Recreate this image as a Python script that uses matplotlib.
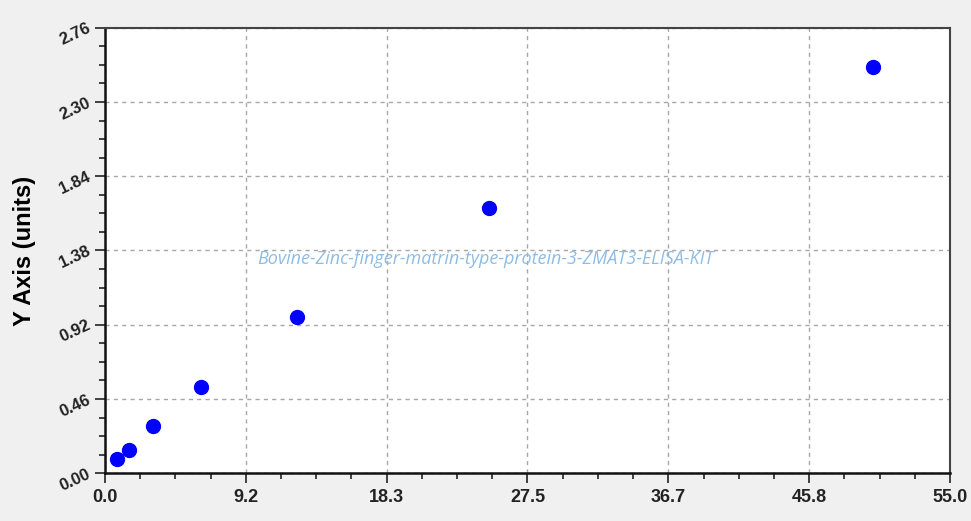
import numpy as np
import matplotlib.pyplot as plt
from matplotlib.ticker import MultipleLocator, FixedLocator

# standard curve points
conc = [0.78, 1.56, 3.125, 6.25, 12.5, 25.0, 50.0]
od = [0.089, 0.144, 0.295, 0.537, 0.965, 1.642, 2.515]

x_ticks = [0.0, 9.2, 18.3, 27.5, 36.7, 45.8, 55.0]
y_ticks = [0.00, 0.46, 0.92, 1.38, 1.84, 2.30, 2.76]
watermark = 'Bovine-Zinc-finger-matrin-type-protein-3-ZMAT3-ELISA-KIT'

plt.rcParams['font.family'] = ['Liberation Sans', 'DejaVu Sans']

fig = plt.figure(figsize=(9.71, 5.21), dpi=100, facecolor='#f0f0f0')
ax = fig.add_axes([0.1081, 0.0916, 0.8703, 0.8552])
ax.set_facecolor('white')

ax.plot(conc, od, 'o', color='#0000ff', markersize=10, zorder=3)

ax.set_xlim(0, 55.0)
ax.set_ylim(0, 2.76)
ax.xaxis.set_major_locator(FixedLocator(np.linspace(0, 55.0, 7)))
ax.yaxis.set_major_locator(FixedLocator(np.linspace(0, 2.76, 7)))
ax.xaxis.set_minor_locator(MultipleLocator(55.0 / 24))
ax.yaxis.set_minor_locator(MultipleLocator(2.76 / 24))
ax.set_xticklabels(['%.1f' % v for v in x_ticks], fontsize=13, fontweight='bold', color='#222222')
ax.set_yticklabels(['%.2f' % v for v in y_ticks], fontsize=12, fontweight='bold', color='#222222',
                   rotation=25, va='center', ha='right', rotation_mode='anchor')

ax.tick_params(which='major', direction='out', length=7, width=1.2, color='#222222')
ax.tick_params(which='minor', direction='out', length=4, width=1.2, color='#222222')
ax.tick_params(axis='x', pad=4)
ax.tick_params(axis='y', pad=4)

ax.grid(True, which='major', linestyle=(0, (3, 3)), color='#a8a8a8', linewidth=1)
for side in ['left', 'bottom']:
    ax.spines[side].set_linewidth(1.8)
    ax.spines[side].set_color('#111111')
for side in ['top', 'right']:
    ax.spines[side].set_linewidth(1.5)
    ax.spines[side].set_color('#444444')

ax.set_ylabel('Y Axis (units)', fontsize=17, fontweight='bold')
ax.yaxis.set_label_coords(-0.082, 0.5)

ax.text(0.45, 0.48, watermark, transform=ax.transAxes, fontsize=13, style='italic',
        color='#8dbde6', ha='center', va='center', family=['Open Sans', 'DejaVu Sans'])

fig.savefig('out.png', dpi=100, facecolor=fig.get_facecolor())
